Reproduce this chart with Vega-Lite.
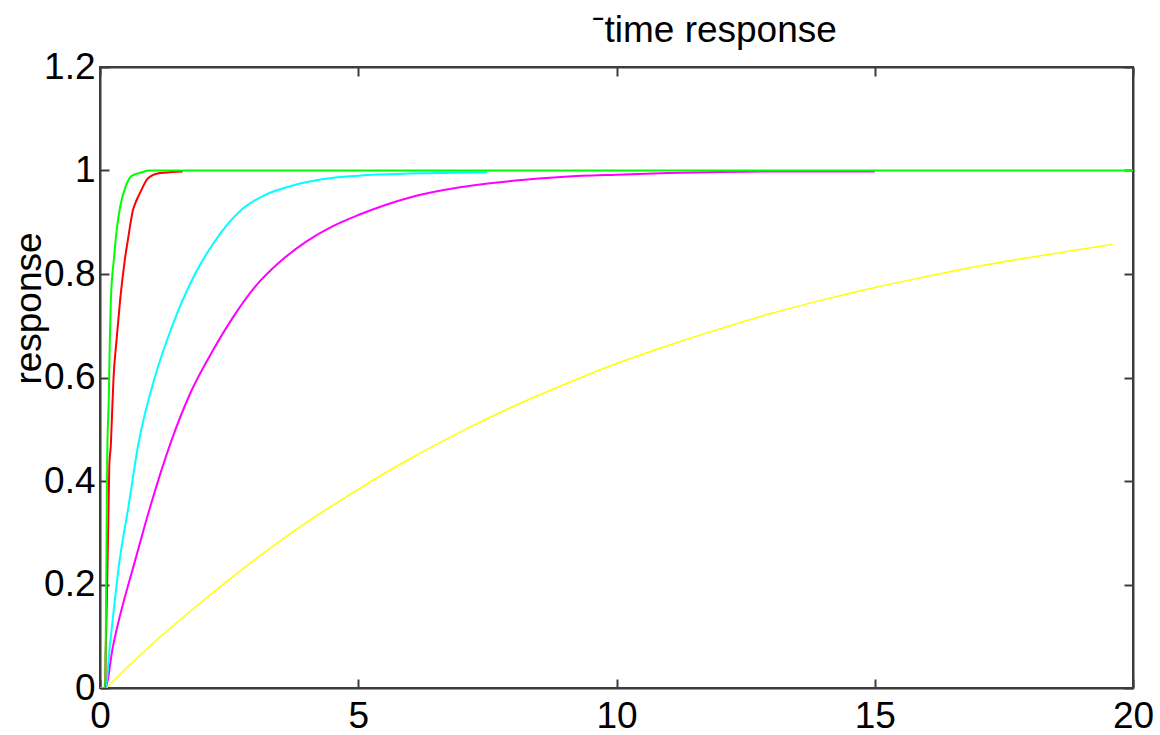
{
  "$schema": "https://vega.github.io/schema/vega-lite/v6.json",
  "width": 1033,
  "height": 621,
  "autosize": "none",
  "padding": {"left": 100, "top": 67, "right": 27, "bottom": 47},
  "background": "white",
  "config": {
    "font": "Liberation Sans",
    "view": {"stroke": "#3c3c3c", "strokeWidth": 2},
    "axis": {
      "grid": false,
      "domainColor": "#3c3c3c",
      "domainWidth": 2,
      "tickColor": "#3c3c3c",
      "tickWidth": 2,
      "tickSize": -9,
      "labelFont": "Liberation Sans",
      "labelFontSize": 37,
      "labelColor": "black",
      "titleFont": "Liberation Sans",
      "titleFontWeight": "normal",
      "titleColor": "black"
    }
  },
  "title": {
    "text": "ˉtime response",
    "font": "Liberation Sans",
    "fontSize": 37,
    "fontWeight": "normal",
    "color": "black",
    "anchor": "middle",
    "dx": 98,
    "baseline": "alphabetic",
    "offset": -31
  },
  "data": {
    "values": [
      {"s": "yellow", "t": 0.12, "y": 0},
      {"s": "yellow", "t": 1, "y": 0.084},
      {"s": "yellow", "t": 2, "y": 0.169},
      {"s": "yellow", "t": 3, "y": 0.248},
      {"s": "yellow", "t": 4, "y": 0.32},
      {"s": "yellow", "t": 5, "y": 0.384},
      {"s": "yellow", "t": 6, "y": 0.443},
      {"s": "yellow", "t": 7, "y": 0.496},
      {"s": "yellow", "t": 8, "y": 0.544},
      {"s": "yellow", "t": 9, "y": 0.587},
      {"s": "yellow", "t": 10, "y": 0.627},
      {"s": "yellow", "t": 11, "y": 0.662},
      {"s": "yellow", "t": 12, "y": 0.694},
      {"s": "yellow", "t": 13, "y": 0.724},
      {"s": "yellow", "t": 14, "y": 0.75},
      {"s": "yellow", "t": 15, "y": 0.774},
      {"s": "yellow", "t": 16, "y": 0.795},
      {"s": "yellow", "t": 17, "y": 0.815},
      {"s": "yellow", "t": 18, "y": 0.832},
      {"s": "yellow", "t": 19, "y": 0.848},
      {"s": "yellow", "t": 19.6, "y": 0.857},

      {"s": "magenta", "t": 0, "y": 0},
      {"s": "magenta", "t": 0.1, "y": 0},
      {"s": "magenta", "t": 0.25, "y": 0.08},
      {"s": "magenta", "t": 0.69, "y": 0.25},
      {"s": "magenta", "t": 0.87, "y": 0.315},
      {"s": "magenta", "t": 1.39, "y": 0.48},
      {"s": "magenta", "t": 1.75, "y": 0.57},
      {"s": "magenta", "t": 2.19, "y": 0.653},
      {"s": "magenta", "t": 2.6, "y": 0.72},
      {"s": "magenta", "t": 3, "y": 0.775},
      {"s": "magenta", "t": 3.5, "y": 0.825},
      {"s": "magenta", "t": 4, "y": 0.863},
      {"s": "magenta", "t": 4.5, "y": 0.892},
      {"s": "magenta", "t": 5, "y": 0.914},
      {"s": "magenta", "t": 6, "y": 0.948},
      {"s": "magenta", "t": 7, "y": 0.968},
      {"s": "magenta", "t": 8, "y": 0.98},
      {"s": "magenta", "t": 9, "y": 0.988},
      {"s": "magenta", "t": 10, "y": 0.992},
      {"s": "magenta", "t": 11, "y": 0.995},
      {"s": "magenta", "t": 12, "y": 0.997},
      {"s": "magenta", "t": 13, "y": 0.998},
      {"s": "magenta", "t": 15, "y": 0.998},

      {"s": "cyan", "t": 0, "y": 0},
      {"s": "cyan", "t": 0.1, "y": 0},
      {"s": "cyan", "t": 0.2, "y": 0.09},
      {"s": "cyan", "t": 0.37, "y": 0.24},
      {"s": "cyan", "t": 0.55, "y": 0.35},
      {"s": "cyan", "t": 0.74, "y": 0.47},
      {"s": "cyan", "t": 1.06, "y": 0.6},
      {"s": "cyan", "t": 1.4, "y": 0.7},
      {"s": "cyan", "t": 1.84, "y": 0.8},
      {"s": "cyan", "t": 2.2, "y": 0.86},
      {"s": "cyan", "t": 2.75, "y": 0.925},
      {"s": "cyan", "t": 3.2, "y": 0.953},
      {"s": "cyan", "t": 3.7, "y": 0.97},
      {"s": "cyan", "t": 4.3, "y": 0.983},
      {"s": "cyan", "t": 5, "y": 0.99},
      {"s": "cyan", "t": 6, "y": 0.994},
      {"s": "cyan", "t": 7.5, "y": 0.996},

      {"s": "red", "t": 0, "y": 0},
      {"s": "red", "t": 0.1, "y": 0},
      {"s": "red", "t": 0.11, "y": 0.07},
      {"s": "red", "t": 0.12, "y": 0.11},
      {"s": "red", "t": 0.14, "y": 0.21},
      {"s": "red", "t": 0.16, "y": 0.32},
      {"s": "red", "t": 0.18, "y": 0.43},
      {"s": "red", "t": 0.21, "y": 0.47},
      {"s": "red", "t": 0.23, "y": 0.52},
      {"s": "red", "t": 0.26, "y": 0.595},
      {"s": "red", "t": 0.32, "y": 0.672},
      {"s": "red", "t": 0.39, "y": 0.75},
      {"s": "red", "t": 0.48, "y": 0.827},
      {"s": "red", "t": 0.54, "y": 0.866},
      {"s": "red", "t": 0.64, "y": 0.924},
      {"s": "red", "t": 0.71, "y": 0.943},
      {"s": "red", "t": 0.8, "y": 0.962},
      {"s": "red", "t": 0.93, "y": 0.985},
      {"s": "red", "t": 1.16, "y": 0.995},
      {"s": "red", "t": 1.4, "y": 0.997},
      {"s": "red", "t": 1.6, "y": 0.998},

      {"s": "green", "t": 0, "y": 0},
      {"s": "green", "t": 0.1, "y": 0},
      {"s": "green", "t": 0.12, "y": 0.2},
      {"s": "green", "t": 0.14, "y": 0.45},
      {"s": "green", "t": 0.17, "y": 0.56},
      {"s": "green", "t": 0.19, "y": 0.67},
      {"s": "green", "t": 0.21, "y": 0.75},
      {"s": "green", "t": 0.27, "y": 0.83},
      {"s": "green", "t": 0.33, "y": 0.89},
      {"s": "green", "t": 0.39, "y": 0.93},
      {"s": "green", "t": 0.5, "y": 0.97},
      {"s": "green", "t": 0.62, "y": 0.99},
      {"s": "green", "t": 0.8, "y": 0.996},
      {"s": "green", "t": 0.95, "y": 1},
      {"s": "green", "t": 20, "y": 1}
    ]
  },
  "layer": [
    {
      "mark": {"type": "line", "interpolate": "monotone", "clip": true},
      "encoding": {
        "x": {
          "field": "t", "type": "quantitative",
          "scale": {"domain": [0, 20], "nice": false, "zero": false},
          "axis": {"orient": "bottom", "values": [0, 5, 10, 15, 20], "format": "~g", "title": null, "labelPadding": 19, "labelFlush": false}
        },
        "y": {
          "field": "y", "type": "quantitative",
          "scale": {"domain": [0, 1.2], "nice": false},
          "axis": {
            "orient": "left", "values": [0, 0.2, 0.4, 0.6, 0.8, 1, 1.2], "format": "~g",
            "labelPadding": 14, "labelFlush": false,
            "title": "response", "titleFontSize": 37, "titleAngle": -90,
            "titleBaseline": "alphabetic", "titleAlign": "center",
            "titleX": -60, "titleY": 241
          }
        },
        "color": {
          "field": "s", "type": "nominal",
          "scale": {
            "domain": ["yellow", "magenta", "cyan", "red", "green"],
            "range": ["#ffff00", "#ff00ff", "#00ffff", "#ff0000", "#00ff00"]
          },
          "legend": null
        },
        "strokeWidth": {"condition": {"test": "datum.s === 'yellow'", "value": 1.5}, "value": 2}
      }
    },
    {
      "mark": {"type": "point", "opacity": 0},
      "encoding": {
        "x": {
          "field": "t", "type": "quantitative",
          "axis": {"orient": "top", "values": [0, 5, 10, 15, 20], "labels": false, "title": null}
        },
        "y": {
          "field": "y", "type": "quantitative",
          "axis": {"orient": "right", "values": [0, 0.2, 0.4, 0.6, 0.8, 1, 1.2], "labels": false, "title": null}
        }
      }
    }
  ],
  "resolve": {"axis": {"x": "independent", "y": "independent"}}
}
